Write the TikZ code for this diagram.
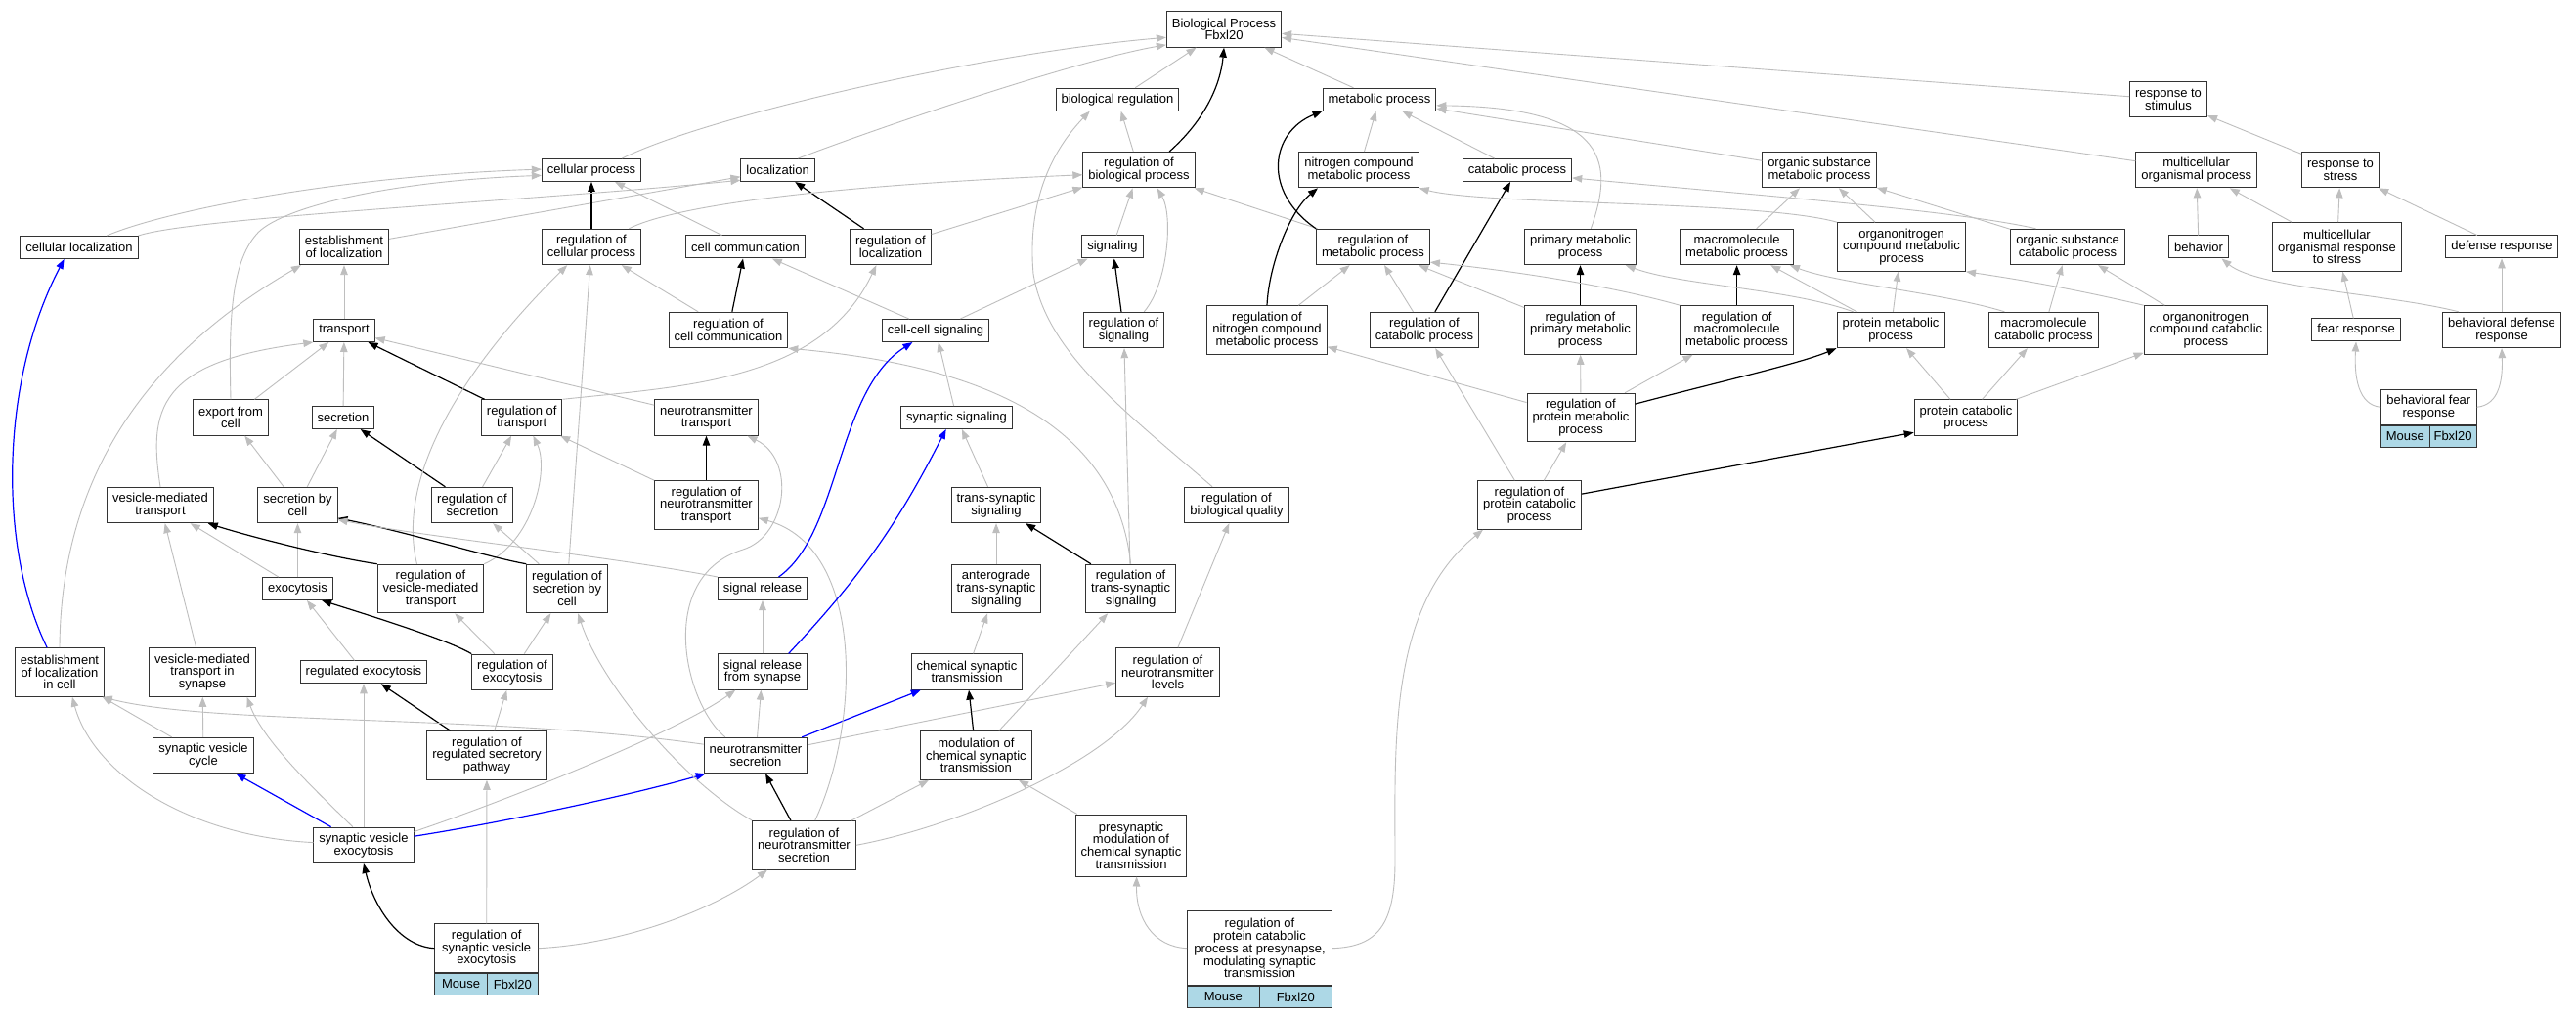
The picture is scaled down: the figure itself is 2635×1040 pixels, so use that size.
\documentclass[tikz,border=0pt]{standalone}
\usepackage{fontspec}
\setmainfont{Liberation Sans}
\usetikzlibrary{arrows.meta,positioning}
\definecolor{edgegray}{HTML}{BEBEBE}
\definecolor{cellblue}{HTML}{ADD8E6}
\tikzset{
  goterm/.style={draw=black!80, line width=1pt, fill=white, align=center,
    inner xsep=5.5pt, inner ysep=1pt, minimum height=23pt,
    font=\fontsize{13}{12.7}\selectfont},
  h2/.style={minimum height=36.4pt},
  h3/.style={minimum height=49.6pt},
  h4/.style={minimum height=63pt},
  h5/.style={minimum height=76pt},
  orgcell/.style={draw=black!80, line width=1pt, fill=cellblue, inner sep=0pt,
    minimum height=21.7pt, font=\fontsize{13}{12.7}\selectfont},
  gohead/.style={-{Triangle[length=10pt,width=7.5pt]}},
  isa/.style={gohead, draw=edgegray, line width=0.9pt},
  regl/.style={gohead, draw=black, line width=1.2pt},
  partof/.style={gohead, draw=blue, line width=1.2pt}
}
\begin{document}
\begin{tikzpicture}[x=1pt,y=1pt]
  \fill[white] (0,0) rectangle (2635,-1040);
  \useasboundingbox (0,0) rectangle (2635,-1040);

  \node[goterm, h2] (bp) at (1252,-30) {Biological Process\\Fbxl20};
  \node[goterm] (breg) at (1143,-101.7) {biological regulation};
  \node[goterm] (mp) at (1411,-101.7) {metabolic process};
  \node[goterm, h2] (rstim) at (2218,-101.7) {response to\\stimulus};

  \node[goterm] (cp) at (605,-174) {cellular process};
  \node[goterm] (loc) at (795.6,-174) {localization};
  \node[goterm, h2] (rbp) at (1165,-173.7) {regulation of\\biological process};
  \node[goterm, h2] (ncmp) at (1390,-173.7) {nitrogen compound\\metabolic process};
  \node[goterm] (catp) at (1552,-174) {catabolic process};
  \node[goterm, h2] (osmp) at (1861,-173.7) {organic substance\\metabolic process};
  \node[goterm, h2] (mop) at (2246.7,-173.7) {multicellular\\organismal process};
  \node[goterm, h2] (rstress) at (2394,-173.7) {response to\\stress};

  \node[goterm] (cloc) at (81,-253) {cellular localization};
  \node[goterm, h2] (eloc) at (352,-252.5) {establishment\\of localization};
  \node[goterm, h2] (rcp) at (605,-252.5) {regulation of\\cellular process};
  \node[goterm] (ccom) at (762.5,-252.5) {cell communication};
  \node[goterm, h2] (rloc) at (911,-252.5) {regulation of\\localization};
  \node[goterm] (sig) at (1138,-252.5) {signaling};
  \node[goterm, h2] (rmp) at (1404.5,-252.5) {regulation of\\metabolic process};
  \node[goterm, h2] (pmp) at (1616.5,-252.5) {primary metabolic\\process};
  \node[goterm, h2] (mmp) at (1776.6,-252.5) {macromolecule\\metabolic process};
  \node[goterm, h3] (oncmp) at (1945,-252.5) {organonitrogen\\compound metabolic\\process};
  \node[goterm, h2] (oscp) at (2115,-252.5) {organic substance\\catabolic process};
  \node[goterm] (beh) at (2249,-252.5) {behavior};
  \node[goterm, h3] (morts) at (2390.5,-252.5) {multicellular\\organismal response\\to stress};
  \node[goterm] (defr) at (2559,-252.5) {defense response};

  \node[goterm] (tra) at (352,-338) {transport};
  \node[goterm, h2] (rccom) at (745,-337.5) {regulation of\\cell communication};
  \node[goterm] (ccsig) at (957,-338) {cell-cell signaling};
  \node[goterm, h2] (rsig) at (1149.5,-337.5) {regulation of\\signaling};
  \node[goterm, h3] (rncmp) at (1296,-337.5) {regulation of\\nitrogen compound\\metabolic process};
  \node[goterm, h2] (rcatp) at (1457,-337.5) {regulation of\\catabolic process};
  \node[goterm, h3] (rpmp) at (1616.5,-337.5) {regulation of\\primary metabolic\\process};
  \node[goterm, h3] (rmmp) at (1776.6,-337.5) {regulation of\\macromolecule\\metabolic process};
  \node[goterm, h2] (prmp) at (1934,-337.5) {protein metabolic\\process};
  \node[goterm, h2] (mcp) at (2090.5,-337.5) {macromolecule\\catabolic process};
  \node[goterm, h3] (onccp) at (2256.4,-337.5) {organonitrogen\\compound catabolic\\process};
  \node[goterm] (fear) at (2410,-337.5) {fear response};
  \node[goterm, h2] (bdr) at (2559,-337.5) {behavioral defense\\response};

  \node[goterm, h2] (efc) at (236,-427) {export from\\cell};
  \node[goterm] (sec) at (351,-427) {secretion};
  \node[goterm, h2] (rtra) at (533.7,-427) {regulation of\\transport};
  \node[goterm, h2] (ntt) at (722.5,-427) {neurotransmitter\\transport};
  \node[goterm] (synsig) at (978.5,-427) {synaptic signaling};
  \node[goterm, h3] (rprmp) at (1617,-427) {regulation of\\protein metabolic\\process};
  \node[goterm, h2] (pcp) at (2011,-427) {protein catabolic\\process};
  \node[goterm, h2, minimum width=97.5pt] (bfr) at (2484.3,-416.3) {behavioral fear\\response};
  \node[orgcell, minimum width=49.5pt, anchor=north west] (bfrm) at (bfr.south west) {Mouse};
  \node[orgcell, minimum width=48pt, anchor=north east] (bfrg) at (bfr.south east) {Fbxl20};

  \node[goterm, h2] (vmt) at (164,-516.5) {vesicle-mediated\\transport};
  \node[goterm, h2] (secc) at (304.5,-516.5) {secretion by\\cell};
  \node[goterm, h2] (rsec) at (483,-516.5) {regulation of\\secretion};
  \node[goterm, h3] (rntt) at (722.5,-516.5) {regulation of\\neurotransmitter\\transport};
  \node[goterm, h2] (tsig) at (1019,-516.5) {trans-synaptic\\signaling};
  \node[goterm, h2] (rbq) at (1265,-516.5) {regulation of\\biological quality};
  \node[goterm, h3] (rpcp) at (1564.5,-516.5) {regulation of\\protein catabolic\\process};

  \node[goterm] (exo) at (304.5,-602) {exocytosis};
  \node[goterm, h3] (rvmt) at (440.5,-602) {regulation of\\vesicle-mediated\\transport};
  \node[goterm, h3] (rsecc) at (580,-602) {regulation of\\secretion by\\cell};
  \node[goterm] (srel) at (780,-602) {signal release};
  \node[goterm, h3] (atsig) at (1019,-602) {anterograde\\trans-synaptic\\signaling};
  \node[goterm, h3] (rtsig) at (1156.6,-602) {regulation of\\trans-synaptic\\signaling};

  \node[goterm, h3] (elocc) at (61,-687.5) {establishment\\of localization\\in cell};
  \node[goterm, h3] (vmts) at (207,-687.5) {vesicle-mediated\\transport in\\synapse};
  \node[goterm] (rexo) at (372,-687.3) {regulated exocytosis};
  \node[goterm, h2] (regexo) at (524,-687.3) {regulation of\\exocytosis};
  \node[goterm, h2] (srels) at (780,-687) {signal release\\from synapse};
  \node[goterm, h2] (cst) at (989,-687) {chemical synaptic\\transmission};
  \node[goterm, h3] (rntl) at (1194.5,-687.5) {regulation of\\neurotransmitter\\levels};

  \node[goterm, h2] (svc) at (208,-772.5) {synaptic vesicle\\cycle};
  \node[goterm, h3] (rrsp) at (498,-772.5) {regulation of\\regulated secretory\\pathway};
  \node[goterm, h2] (nts) at (773,-772.5) {neurotransmitter\\secretion};
  \node[goterm, h3] (mcst) at (998.4,-772.5) {modulation of\\chemical synaptic\\transmission};

  \node[goterm, h2] (sve) at (372,-864.3) {synaptic vesicle\\exocytosis};
  \node[goterm, h3] (rnts) at (822.5,-864.3) {regulation of\\neurotransmitter\\secretion};
  \node[goterm, h4] (pmcst) at (1157,-864.5) {presynaptic\\modulation of\\chemical synaptic\\transmission};

  \node[goterm, h3, minimum width=105.5pt] (rsve) at (497.7,-969.7) {regulation of\\synaptic vesicle\\exocytosis};
  \node[orgcell, minimum width=53.3pt, anchor=north west] (rsvem) at (rsve.south west) {Mouse};
  \node[orgcell, minimum width=52.2pt, anchor=north east] (rsveg) at (rsve.south east) {Fbxl20};
  \node[goterm, h5, minimum width=148pt] (rpcpp) at (1288.5,-969.7) {regulation of\\protein catabolic\\process at presynapse,\\modulating synaptic\\transmission};
  \node[orgcell, minimum width=73.5pt, anchor=north west] (rpcppm) at (rpcpp.south west) {Mouse};
  \node[orgcell, minimum width=74.5pt, anchor=north east] (rpcppg) at (rpcpp.south east) {Fbxl20};

  \foreach \a/\b in {breg/bp, mp/bp, rstim/bp, mop/bp, rbp/breg, rloc/rbp, sig/rbp,
    rmp/rbp, ccom/cp, eloc/loc, tra/eloc, rsecc/rcp, rccom/rcp, ccsig/ccom, ccsig/sig}
    \draw[isa] (\a) -- (\b);

  \foreach \a/\b in {ncmp/mp, catp/mp, osmp/mp, mmp/osmp, oncmp/osmp, oscp/osmp,
    rncmp/rmp, rcatp/rmp, rpmp/rmp, prmp/mmp, prmp/oncmp, rprmp/rncmp, rpcp/rcatp,
    rprmp/rpmp, rprmp/rmmp, rpcp/rprmp, pcp/prmp, pcp/mcp, pcp/onccp}
    \draw[isa] (\a) -- (\b);

  \foreach \a/\b in {rstress/rstim, beh/mop, morts/mop, morts/rstress, defr/rstress,
    mcp/oscp, onccp/oscp, fear/morts, bdr/defr}
    \draw[isa] (\a) -- (\b);

  \foreach \a/\b in {efc/tra, sec/tra, ntt/tra, secc/efc, secc/sec, rsec/rtra, rntt/rtra,
    exo/vmt, vmts/vmt, exo/secc, rsecc/rsec, rexo/exo, regexo/rvmt, regexo/rsecc,
    synsig/ccsig, tsig/synsig, atsig/tsig, srels/srel, cst/atsig, mcst/rtsig, rtsig/rsig,
    rntl/rbq, nts/srels, nts/rntl, svc/elocc, svc/vmts, sve/rexo, rrsp/regexo, rsve/rrsp,
    rnts/mcst, pmcst/mcst}
    \draw[isa] (\a) -- (\b);

  \foreach \a/\b in {rcp/cp, rloc/loc, rccom/ccom, rsig/sig, rcatp/catp, rpmp/pmp,
    rmmp/mmp, rtra/tra, rsec/sec, rntt/ntt, rtsig/tsig, mcst/cst, rrsp/rexo, rnts/nts}
    \draw[regl] (\a) -- (\b);

  \foreach \a/\b in {sve/svc, nts/cst}
    \draw[partof] (\a) -- (\b);

  \draw[isa] (cp.21) .. controls (720,-120) and (1000,-55) .. (bp.188);
  \draw[isa] (loc.30) .. controls (900,-130) and (1100,-62) .. (bp.195);
  \draw[regl] (rbp.31) .. controls (1230,-125) and (1248,-90) .. (bp.south);
  \draw[isa] (rbq.143) .. controls (1150,-420) and (1070,-360) .. (1057,-280)
    .. controls (1050,-200) and (1080,-150) .. (breg.203);
  \draw[isa] (rcp.26) .. controls (680,-215) and (800,-192) .. (rbp.185);
  \draw[isa] (rsig.42) .. controls (1195,-290) and (1200,-220) .. (rbp.-45);
  \draw[isa] (cloc.23) .. controls (170,-215) and (350,-180) .. (cp.179);
  \draw[isa] (efc.north) .. controls (234,-330) and (236,-270) .. (262,-240)
    .. controls (285,-212) and (400,-185) .. (cp.186);
  \draw[isa] (cloc.north east) .. controls (200,-222) and (550,-205) .. (loc.195);
  \draw[partof] (elocc.117) .. controls (-2,-560) and (0,-390) .. (cloc.218);
  \draw[isa] (elocc.north) .. controls (62,-520) and (120,-380) .. (eloc.203);
  \draw[isa] (rvmt.119) .. controls (405,-490) and (470,-380) .. (rcp.217);
  \draw[isa] (rtra.north east) .. controls (700,-395) and (840,-390) .. (rloc.232);
  \draw[isa] (rtsig.north) .. controls (1140,-420) and (980,-372) .. (rccom.south east);

  \draw[isa] (oncmp.north west) .. controls (1800,-205) and (1520,-210) .. (ncmp.south east);
  \draw[isa] (pmp.60) .. controls (1650,-170) and (1650,-110) .. (mp.-6);
  \draw[regl] (rmp.north west) .. controls (1290,-195) and (1300,-135) .. (mp.south west);
  \draw[regl] (rncmp.north) .. controls (1298,-270) and (1320,-215) .. (ncmp.204);
  \draw[isa] (rmmp.north west) .. controls (1640,-290) and (1530,-275) .. (rmp.-15);
  \draw[isa] (prmp.154) .. controls (1830,-295) and (1720,-292) .. (pmp.-22);
  \draw[isa] (mcp.155) .. controls (1990,-300) and (1880,-290) .. (mmp.-19);
  \draw[isa] (onccp.north west) .. controls (2120,-295) and (2060,-285) .. (oncmp.south east);
  \draw[isa] (oscp.150) .. controls (2000,-215) and (1800,-200) .. (catp.-8);
  \draw[regl] (rprmp.14) .. controls (1760,-390) and (1840,-372) .. (prmp.south west);
  \draw[regl] (rpcp.12) -- (pcp.196);
  \draw[isa] (rpcpp.east) .. controls (1410,-968) and (1427,-945) .. (1427,-880)
    .. controls (1427,-760) and (1420,-620) .. (rpcp.208);

  \draw[isa] (bdr.157) .. controls (2440,-300) and (2310,-295) .. (beh.-27);
  \draw[isa] (bfr.west) .. controls (2412,-414) and (2408,-385) .. (fear.south);
  \draw[isa] (bfr.east) .. controls (2558,-414) and (2560,-385) .. (bdr.south);

  \draw[isa] (vmt.north) .. controls (152,-420) and (160,-370) .. (tra.south west);
  \draw[isa] (rvmt.north east) .. controls (545,-555) and (562,-480) .. (rtra.-58);
  \draw[regl] (rvmt.north west) .. controls (340,-570) and (260,-550) .. (vmt.-21);
  \draw[regl] (rsecc.north west) .. controls (500,-570) and (420,-545) .. (secc.-18);
  \draw[isa] (srel.north west) .. controls (620,-568) and (440,-550) .. (secc.-20);
  \draw[regl] (regexo.north west) .. controls (460,-655) and (380,-630) .. (exo.-26);

  \draw[isa] (nts.149) .. controls (700,-720) and (670,-590) .. (760,-562)
    .. controls (805,-548) and (815,-470) .. (ntt.-24);
  \draw[isa] (rnts.66) .. controls (880,-740) and (885,-560) .. (rntt.-14);
  \draw[partof] (srel.36) .. controls (860,-545) and (855,-400) .. (ccsig.207);
  \draw[partof] (srels.35) to[bend right=8] (synsig.228);

  \draw[isa] (sve.15) .. controls (520,-818) and (690,-750) .. (srels.214);
  \draw[partof] (sve.10) .. controls (520,-840) and (650,-812) .. (nts.200);
  \draw[isa] (sve.177) .. controls (190,-855) and (95,-790) .. (elocc.-63);
  \draw[isa] (nts.168) .. controls (500,-730) and (220,-742) .. (elocc.-30);
  \draw[isa] (sve.121) .. controls (330,-815) and (270,-760) .. (vmts.-29);
  \draw[regl] (rsve.west) .. controls (410,-968) and (383,-930) .. (sve.south);
  \draw[isa] (rsve.east) .. controls (640,-965) and (730,-930) .. (rnts.214);
  \draw[isa] (rnts.north west) .. controls (700,-800) and (615,-700) .. (rsecc.-66);
  \draw[isa] (rnts.east) .. controls (980,-845) and (1130,-780) .. (rntl.231);
  \draw[isa] (rpcpp.west) .. controls (1180,-968) and (1162,-940) .. (pmcst.-80);
\end{tikzpicture}
\end{document}
